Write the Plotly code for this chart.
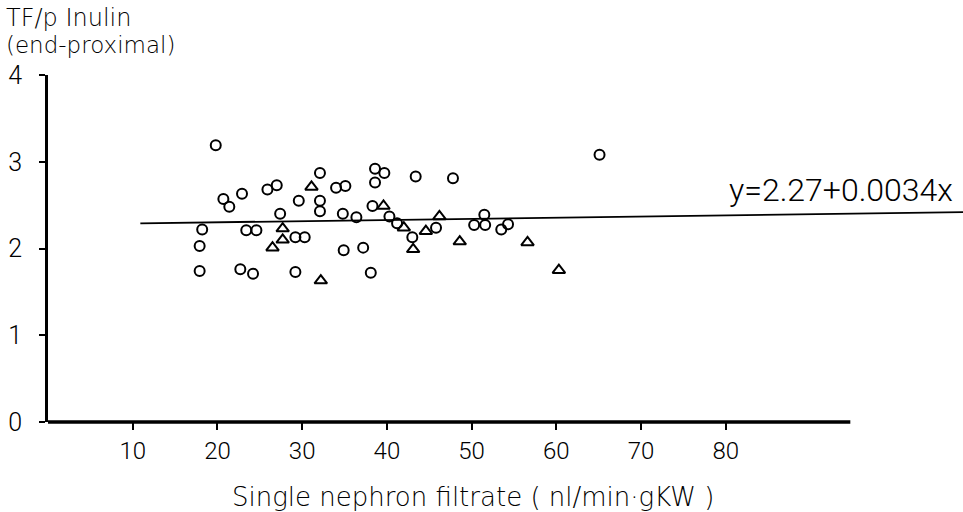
import plotly.graph_objects as go

# Circles (open) : x = single nephron filtrate, y = TF/p inulin
circ_x = [19.8, 20.7, 21.4, 22.9, 25.9, 27.0, 32.1, 29.6, 32.1, 32.1, 27.4, 34.0, 35.1, 34.8, 36.4,
          38.6, 38.6, 38.3, 18.2, 17.9, 17.9, 23.4, 24.6, 29.2, 30.3, 34.9, 37.2, 22.7, 24.2, 29.2,
          38.1, 39.7, 43.4, 47.8, 40.3, 41.2, 43.0, 45.8, 50.3, 51.5, 51.6, 53.5, 54.3, 65.1]
circ_y = [3.19, 2.57, 2.48, 2.63, 2.68, 2.73, 2.87, 2.55, 2.55, 2.43, 2.40, 2.70, 2.72, 2.40, 2.36,
          2.92, 2.76, 2.49, 2.22, 2.03, 1.74, 2.21, 2.21, 2.13, 2.13, 1.98, 2.01, 1.76, 1.71, 1.73,
          1.72, 2.87, 2.83, 2.81, 2.37, 2.29, 2.13, 2.24, 2.27, 2.39, 2.27, 2.22, 2.28, 3.08]

# Triangles (open)
tri_x = [31.1, 27.7, 27.7, 26.5, 32.2, 39.6, 42.0, 43.1, 44.6, 46.2, 48.6, 56.6, 60.3]
tri_y = [2.71, 2.23, 2.10, 2.01, 1.63, 2.49, 2.24, 1.99, 2.20, 2.37, 2.08, 2.07, 1.75]

# Regression line as drawn
line_x = [10.9, 108.0]
line_y = [2.29, 2.42]
eq_label = "y=2.27+0.0034x"

x_ticks = [10, 20, 30, 40, 50, 60, 70, 80]
y_ticks = [0, 1, 2, 3, 4]
x_axis_end = 94.7

NUMFONT = "Roboto"
TXTFONT = "DejaVu Sans"

fig = go.Figure()
fig.add_trace(go.Scatter(x=line_x, y=line_y, mode="lines",
                         line=dict(color="black", width=1.8), hoverinfo="skip"))
fig.add_trace(go.Scatter(x=circ_x, y=circ_y, mode="markers",
                         marker=dict(symbol="circle-open", size=10, color="black",
                                     line=dict(width=2, color="black"))))
fig.add_trace(go.Scatter(x=tri_x, y=tri_y, mode="markers",
                         marker=dict(symbol="triangle-up-open", size=11, color="black",
                                     line=dict(width=2, color="black"))))

fig.update_layout(
    width=963, height=512,
    margin=dict(l=48, r=0, t=75, b=90),
    paper_bgcolor="white", plot_bgcolor="white",
    showlegend=False,
    font=dict(family=NUMFONT, color="black", size=24),
    xaxis=dict(range=[0, 108], showgrid=False, zeroline=False, showline=False,
               tickvals=x_ticks, ticks="outside", ticklen=7, tickwidth=2, tickcolor="black",
               tickfont=dict(size=24, family=NUMFONT, weight=300)),
    yaxis=dict(range=[0, 4], showgrid=False, zeroline=False, showline=True,
               linewidth=3, linecolor="black", tickvals=y_ticks, ticks="outside",
               ticklen=6, tickwidth=2, tickcolor="black",
               ticklabelstandoff=12, tickfont=dict(size=25, family=NUMFONT, weight=300)),
    shapes=[
        dict(type="line", xref="x", yref="paper", x0=0, x1=x_axis_end, y0=0, y1=0,
             line=dict(color="black", width=3.5)),
    ],
    annotations=[
        dict(text="TF/p Inulin", xref="paper", yref="paper", x=-0.048, y=1.164,
             xanchor="left", yanchor="middle", showarrow=False,
             font=dict(size=24, family=TXTFONT, weight=300)),
        dict(text="(end-proximal)", xref="paper", yref="paper", x=-0.048, y=1.086,
             xanchor="left", yanchor="middle", showarrow=False,
             font=dict(size=23, family=TXTFONT, weight=300)),
        dict(text="Single nephron filtrate ( nl/min·gKW )", xref="paper", yref="paper",
             x=0.4645, y=-0.216, xanchor="center", yanchor="middle", showarrow=False,
             font=dict(size=26, family=TXTFONT, weight=300)),
        dict(text=eq_label, xref="x", yref="y", x=93.6, y=2.67,
             xanchor="center", yanchor="middle", showarrow=False,
             font=dict(size=32, family=NUMFONT, weight=300)),
    ],
)

fig.write_html("out.html")
